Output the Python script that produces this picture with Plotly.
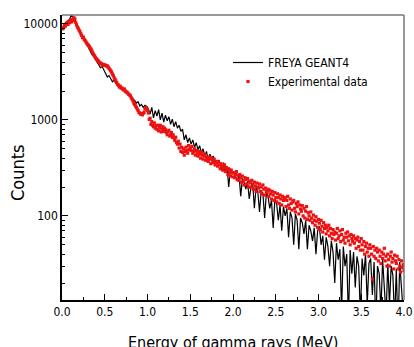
import numpy as np
import plotly.graph_objects as go

# Experimental data: energies 0.01..4.00 MeV (step 0.01), counts
exp_energy = np.round(np.arange(1, 401) * 0.01, 2)
exp_counts = [
    8900, 9300, 9700, 9500, 10100, 10400, 9900, 10600, 10300, 10900,
    10500, 11200, 10800, 11600, 11300, 10400, 9800, 9300, 9000, 8600,
    8300, 7900, 7600, 7200, 7300, 6900, 6700, 6500, 6300, 6100,
    6000, 5800, 5600, 5450, 5250, 5000, 4800, 4650, 4500, 4350,
    4250, 4150, 4050, 3950, 3900, 3850, 3750, 3800, 3700, 3750,
    3700, 3650, 3650, 3550, 3450, 3350, 3250, 3150, 3000, 2900,
    2750, 2650, 2550, 2450, 2350, 2300, 2200, 2250, 2150, 2150,
    2100, 2050, 2100, 2000, 1950, 1950, 1900, 1850, 1820, 1780,
    1700, 1650, 1580, 1500, 1450, 1400, 1350, 1300, 1250, 1200,
    1180, 1150, 1160, 1130, 1170, 1200, 1300, 1350, 1320, 1260,
    1180, 1010, 1040, 900, 960, 880, 850, 930, 820, 870,
    800, 880, 770, 830, 880, 750, 800, 850, 760, 820,
    790, 740, 700, 760, 780, 680, 700, 740, 660, 700,
    650, 610, 660, 580, 560, 600, 510, 560, 470, 520,
    460, 500, 430, 470, 520, 480, 450, 540, 490, 510,
    480, 530, 450, 470, 500, 430, 480, 450, 420, 470,
    440, 400, 460, 430, 390, 420, 440, 380, 410, 400,
    370, 410, 390, 350, 400, 380, 360, 390, 340, 370,
    360, 330, 370, 340, 310, 350, 330, 300, 320, 340,
    290, 320, 300, 270, 310, 290, 260, 300, 280, 255,
    280, 250, 270, 290, 240, 265, 235, 270, 250, 225,
    260, 230, 210, 250, 240, 215, 245, 200, 230, 220,
    200, 235, 215, 190, 225, 205, 180, 220, 200, 195,
    215, 180, 200, 170, 210, 190, 165, 195, 180, 175,
    190, 160, 185, 170, 150, 180, 165, 145, 175, 155,
    140, 170, 155, 135, 165, 150, 130, 160, 145, 150,
    155, 125, 145, 160, 130, 120, 150, 135, 115, 140,
    145, 120, 110, 135, 125, 140, 105, 130, 118, 112,
    128, 100, 120, 95, 112, 125, 92, 108, 100, 90,
    110, 95, 85, 102, 90, 80, 98, 88, 76, 92,
    84, 72, 90, 78, 68, 85, 74, 80, 65, 76,
    70, 80, 62, 74, 66, 58, 72, 64, 68, 56,
    66, 74, 58, 62, 70, 54, 64, 72, 56, 60,
    52, 66, 60, 68, 55, 62, 50, 64, 58, 54,
    62, 52, 58, 46, 56, 60, 48, 54, 44, 58,
    50, 44, 54, 40, 48, 52, 42, 46, 38, 50,
    46, 40, 22, 48, 38, 44, 36, 46, 42, 34,
    44, 38, 32, 42, 36, 40, 46, 34, 38, 30,
    40, 35, 30, 38, 42, 33, 36, 28, 39, 34,
    32, 38, 28, 35, 30, 26, 34, 29, 31, 27,
]

# FREYA GEANT4 simulation: energies 0.01..3.99 MeV (step 0.02), counts
sim_energy = np.round(0.01 + np.arange(200) * 0.02, 2)
sim_counts = [
    8800, 9600, 10200, 10800, 11300, 12400, 11800, 11200, 10000, 9200,
    8300, 7600, 7200, 6600, 6200, 5700, 5300, 4800, 4600, 4300,
    4000, 3800, 3500, 3600, 3300, 3100, 2800, 2900, 2650, 2500,
    2600, 2400, 2350, 2200, 2150, 2050, 2100, 1950, 1900, 1800,
    1750, 1650, 1600, 1500, 1550, 1400, 1450, 1350, 1420, 1380,
    1300, 1150, 1350, 1050, 1250, 1100, 1280, 1000, 1180, 950,
    1120, 980, 1080, 900, 1020, 850, 960, 820, 880, 760,
    800, 620, 700, 580, 650, 560, 620, 520, 580, 490,
    540, 450, 500, 420, 470, 380, 440, 400, 420, 360,
    380, 330, 350, 300, 360, 290, 330, 200, 310, 280,
    290, 250, 230, 270, 160, 245, 225, 190, 230, 150,
    195, 220, 120, 200, 180, 110, 185, 170, 95, 175,
    160, 120, 145, 75, 150, 135, 90, 130, 70, 125,
    100, 120, 60, 110, 95, 50, 105, 90, 45, 95,
    85, 65, 90, 45, 80, 70, 55, 75, 40, 70,
    78, 50, 62, 35, 60, 48, 30, 55, 42, 20,
    52, 35, 45, 10, 48, 30, 40, 8, 44, 25,
    42, 18, 38, 30, 9, 36, 24, 40, 12, 32,
    36, 15, 33, 7, 30, 25, 10, 35, 20, 9,
    32, 12, 30, 24, 8, 28, 6, 33, 18, 10,
]

x_tick_vals = [0.0, 0.5, 1.0, 1.5, 2.0, 2.5, 3.0, 3.5, 4.0]
x_tick_text = ["0.0", "0.5", "1.0", "1.5", "2.0", "2.5", "3.0", "3.5", "4.0"]
y_tick_vals = [100, 1000, 10000]
y_tick_text = ["100", "1000", "10000"]
y_minor_vals = [m * d for d in (10, 100, 1000) for m in range(2, 10)]

FONT = "DejaVu Sans Condensed, DejaVu Sans, sans-serif"

fig = go.Figure()
fig.add_trace(go.Scatter(
    x=sim_energy, y=sim_counts, mode="lines", name="FREYA GEANT4",
    line=dict(color="black", width=1.2),
))
fig.add_trace(go.Scatter(
    x=exp_energy, y=exp_counts, mode="markers", name="Experimental data",
    marker=dict(color="#ee1111", size=3.2, symbol="square", line=dict(width=0)),
))

L, R, T, B = 62, 10, 15, 47
W, H = 414, 347
pw = W - L - R
ph = H - T - B

fig.update_layout(
    width=W, height=H,
    margin=dict(l=L, r=R, t=T, b=B, pad=0, autoexpand=False),
    paper_bgcolor="white", plot_bgcolor="white",
    font=dict(family=FONT, size=12, color="black"),
    showlegend=True,
    legend=dict(
        x=(233 - 5 - L) / pw, y=1 - (48 - T) / ph, xanchor="left", yanchor="top",
        bgcolor="rgba(0,0,0,0)", font=dict(size=12), tracegroupgap=0,
    ),
    xaxis=dict(
        range=[0, 4.0], showline=True, linecolor="black", linewidth=1.5,
        automargin=False,
        ticks="inside", ticklen=6, tickwidth=1, tickcolor="black",
        tickvals=x_tick_vals, ticktext=x_tick_text, showgrid=False, zeroline=False,
        minor=dict(ticks="inside", ticklen=3, tickwidth=1, tickcolor="black",
                   dtick=0.25, tick0=0, showgrid=False),
        tickfont=dict(size=12),
    ),
    yaxis=dict(
        type="log", range=[np.log10(13.3), np.log10(12400)],
        showline=True, linecolor="black", linewidth=1.5,
        automargin=False,
        ticks="inside", ticklen=6, tickwidth=1, tickcolor="black",
        tickvals=y_tick_vals, ticktext=y_tick_text, showgrid=False, zeroline=False,
        minor=dict(ticks="inside", ticklen=3, tickwidth=1, tickcolor="black",
                   tickvals=y_minor_vals, showgrid=False),
        tickfont=dict(size=12),
    ),
    shapes=[
        dict(type="line", xref="paper", yref="paper", x0=0, x1=1, y0=1, y1=1,
             line=dict(color="#777777", width=1.5)),
        dict(type="line", xref="paper", yref="paper", x0=1, x1=1, y0=0, y1=1,
             line=dict(color="#777777", width=1.5)),
    ],
    annotations=[
        dict(text="Energy of gamma rays (MeV)", xref="paper", yref="paper",
             x=0.5, y=-(342 - (H - B)) / ph, xanchor="center", yanchor="middle",
             showarrow=False, font=dict(size=16)),
        dict(text="Counts", xref="paper", yref="paper",
             x=-(L - 18) / pw, y=(H - B - 173) / ph, textangle=-90,
             xanchor="center", yanchor="middle", showarrow=False,
             font=dict(size=18)),
    ],
)

fig.write_html(
    "out.html",
    config={"displayModeBar": False},
    post_script="document.body.style.margin='0';document.body.style.overflow='hidden';",
)
